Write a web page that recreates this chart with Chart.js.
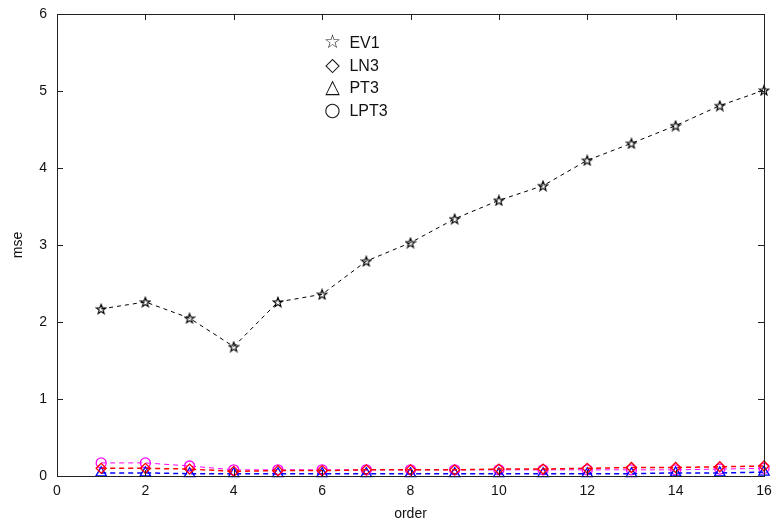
<!DOCTYPE html>
<html>
<head>
<meta charset="utf-8">
<script src="https://cdn.jsdelivr.net/npm/chart.js@4/dist/chart.umd.min.js"></script>
<style>
  html,body{margin:0;padding:0;background:#fff;}
  #wrap{position:relative;width:773px;height:528px;}
  #legend{position:absolute;left:320px;top:31px;font-family:"Liberation Sans",Arial,sans-serif;font-size:16px;color:#111;line-height:21.5px;}
  #legend .m{display:inline-block;width:25px;text-align:center;font-family:"DejaVu Sans",sans-serif;font-size:19px;}
</style>
</head>
<body>
<div id="wrap">
<canvas id="c" width="773" height="528"></canvas>
<div id="legend"></div>
</div>
<script>
const orders = [1,2,3,4,5,6,7,8,9,10,11,12,13,14,15,16];
const ev1  = [2.17,2.26,2.05,1.68,2.26,2.36,2.79,3.03,3.34,3.58,3.77,4.10,4.32,4.55,4.81,5.01];
const ln3  = [0.10,0.10,0.09,0.06,0.07,0.07,0.08,0.08,0.08,0.09,0.09,0.10,0.11,0.11,0.12,0.13];
const pt3  = [0.04,0.04,0.03,0.03,0.03,0.03,0.03,0.03,0.03,0.03,0.03,0.03,0.03,0.04,0.04,0.05];
const lpt3 = [0.17,0.17,0.13,0.08,0.08,0.08,0.08,0.08,0.08,0.08,0.08,0.08,0.08,0.08,0.09,0.10];
const seriesNames = ['EV1','LN3','PT3','LPT3'];
const legendGlyphs = ['\u2606','\u25C7','\u25B3','\u25CB'];
const xTicks = [0,2,4,6,8,10,12,14,16];
const yTicks = [0,1,2,3,4,5,6];

function pentagram(size, color){
  const cv = document.createElement('canvas');
  cv.width = size; cv.height = size;
  const g = cv.getContext('2d');
  const cx = size/2, cy = size/2 + 0.5, R = size/2 - 1, r = R*0.42;
  g.beginPath();
  for(let i=0;i<10;i++){
    const a = -Math.PI/2 + i*Math.PI/5;
    const rr = i%2===0 ? R : r;
    const x = cx + rr*Math.cos(a), y = cy + rr*Math.sin(a);
    if(i===0) g.moveTo(x,y); else g.lineTo(x,y);
  }
  g.closePath();
  g.strokeStyle = color; g.lineWidth = 1.2; g.stroke();
  return cv;
}
const starImg = pentagram(12,'#000');

function pts(arr){ return orders.map((o,i)=>({x:o,y:arr[i]})); }

document.getElementById('legend').innerHTML = seriesNames.map((n,i)=>
  '<div><span class="m">'+legendGlyphs[i]+'</span> '+n+'</div>').join('');

const framePlugin = {
  id:'frame',
  afterDatasetsDraw(chart){
    const {ctx, chartArea:a, scales:{x,y}} = chart;
    ctx.save();
    ctx.strokeStyle = '#222'; ctx.lineWidth = 1;
    ctx.strokeRect(Math.round(a.left)+0.5, Math.round(a.top)+0.5, Math.round(a.right-a.left), Math.round(a.bottom-a.top));
    ctx.beginPath();
    xTicks.forEach(v=>{
      const px = Math.round(x.getPixelForValue(v))+0.5;
      ctx.moveTo(px,a.bottom); ctx.lineTo(px,a.bottom-6);
      ctx.moveTo(px,a.top); ctx.lineTo(px,a.top+6);
    });
    yTicks.forEach(v=>{
      const py = Math.round(y.getPixelForValue(v))+0.5;
      ctx.moveTo(a.left,py); ctx.lineTo(a.left+6,py);
      ctx.moveTo(a.right,py); ctx.lineTo(a.right-6,py);
    });
    ctx.stroke();
    ctx.restore();
  }
};

const font = {family:'"Liberation Sans", Arial, sans-serif', size:14};

new Chart(document.getElementById('c'), {
  type:'line',
  data:{
    datasets:[
      {label:'EV1', data:pts(ev1), borderColor:'#000', borderWidth:1, borderDash:[4,4], pointStyle:starImg, pointRadius:6, clip:false},
      {label:'LN3', data:pts(ln3), borderColor:'#ff0000', borderWidth:1.5, borderDash:[5,4], pointStyle:'rectRot', pointRadius:5, pointBorderColor:'#ff0000', pointBackgroundColor:'rgba(0,0,0,0)', pointBorderWidth:1.3, clip:false},
      {label:'PT3', data:pts(pt3), borderColor:'#0000ff', borderWidth:1.5, borderDash:[5,4], pointStyle:'triangle', pointRadius:6, pointBorderColor:'#0000ff', pointBackgroundColor:'rgba(0,0,0,0)', pointBorderWidth:1.3, clip:false},
      {label:'LPT3', data:pts(lpt3), borderColor:'#ff00ff', borderWidth:1, borderDash:[5,4], pointStyle:'circle', pointRadius:5, pointBorderColor:'#ff00ff', pointBackgroundColor:'rgba(0,0,0,0)', pointBorderWidth:1.3, clip:false}
    ]
  },
  options:{
    responsive:false, animation:false,
    layout:{padding:{top:14,right:9,left:0,bottom:0}},
    plugins:{legend:{display:false}, tooltip:{enabled:false}},
    elements:{line:{tension:0}},
    scales:{
      x:{type:'linear', min:0, max:16,
        afterFit(s){ s.height = 52; s.paddingLeft = 0; s.paddingRight = 0; },
        afterBuildTicks(s){ s.ticks = xTicks.map(v=>({value:v})); },
        grid:{display:false, drawTicks:false}, border:{display:false},
        ticks:{font, color:'#111', padding:7, maxRotation:0, autoSkip:false},
        title:{display:true, text:'order', font, color:'#111', padding:{top:0,bottom:5}}
      },
      y:{type:'linear', min:0, max:6,
        afterFit(s){ s.width = 57; s.paddingTop = 0; s.paddingBottom = 0; },
        afterBuildTicks(s){ s.ticks = yTicks.map(v=>({value:v})); },
        grid:{display:false, drawTicks:false}, border:{display:false},
        ticks:{font, color:'#111', padding:10},
        title:{display:true, text:'mse', font, color:'#111', padding:{top:10,bottom:0}}
      }
    }
  },
  plugins:[framePlugin]
});
</script>
</body>
</html>
